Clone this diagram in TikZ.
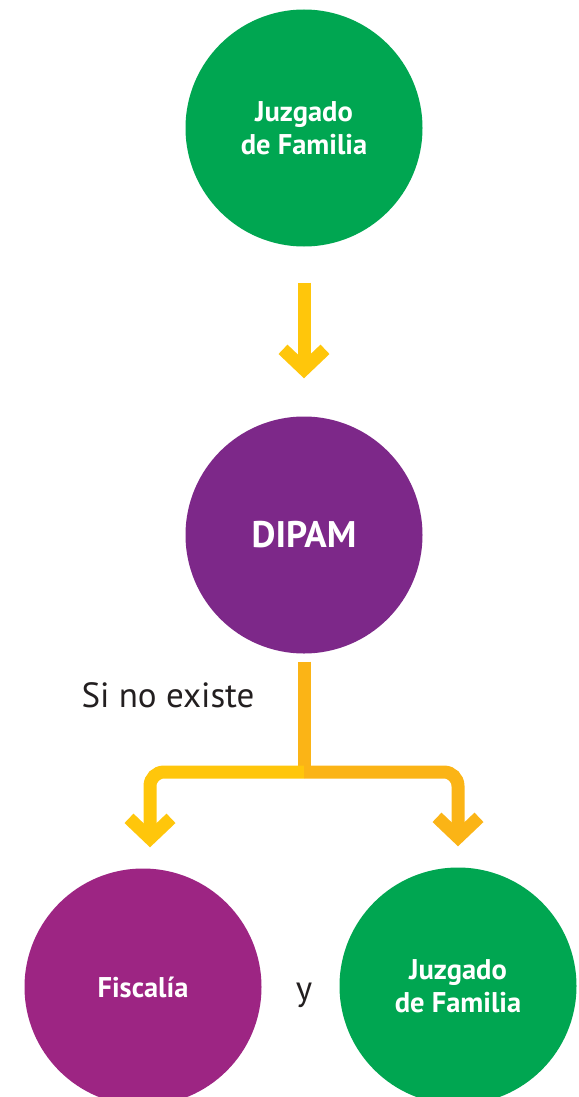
\documentclass[tikz,border=0pt]{standalone}
\usepackage{fontspec}
\setmainfont{PT Sans}
\usetikzlibrary{arrows.meta}
\definecolor{verde}{HTML}{00A651}
\definecolor{morado}{HTML}{7D2889}
\definecolor{fucsia}{HTML}{9D2583}
\definecolor{amarillo}{HTML}{FFC60B}
\definecolor{naranja}{HTML}{FBB416}
\definecolor{texto}{HTML}{231F20}
\begin{document}
\begin{tikzpicture}[x=1pt,y=-1pt,
        circulo/.style={circle,minimum size=237pt,inner sep=0pt,text=white,align=center,
            font=\bfseries\fontsize{28.5}{33}\selectfont},
        linea/.style={line width=13pt,draw=amarillo},
        flecha/.style={linea,-{Straight Barb[length=20pt,width=42pt,line join=miter]}}]
    \useasboundingbox (0,0) rectangle (578,1097);
    \node[circulo,fill=verde] (juzgado) at (304,128) {Juzgado\\de Familia};
    \node[circulo,fill=morado,font=\bfseries\fontsize{37}{42}\selectfont] (dipam) at (304,535) {DIPAM};
    \node[circulo,fill=fucsia] (fiscalia) at (143,987) {Fiscalía};
    \node[circulo,fill=verde] (juzgado2) at (458,986) {Juzgado\\de Familia};
    \node[anchor=base west,text=texto,font=\fontsize{35}{40}\selectfont] (sino) at (78,707) {Si no existe};
    \node[anchor=base,text=texto,font=\fontsize{35}{40}\selectfont] (y) at (304,1000) {y};
    \coordinate (cruce) at (304,772);
    % flechas
    \draw[flecha,shorten <=36pt,shorten >=38pt] (juzgado) -- (dipam);
    \draw[linea,draw=naranja,shorten <=8pt] (dipam.south) -- ([yshift=6pt]cruce);
    \draw[flecha,rounded corners=14pt,shorten >=21pt] (cruce) -| ([xshift=7pt]fiscalia.north);
    \draw[flecha,draw=naranja,rounded corners=14pt,shorten >=21pt] (cruce) -| (juzgado2.north);
\end{tikzpicture}
\end{document}
